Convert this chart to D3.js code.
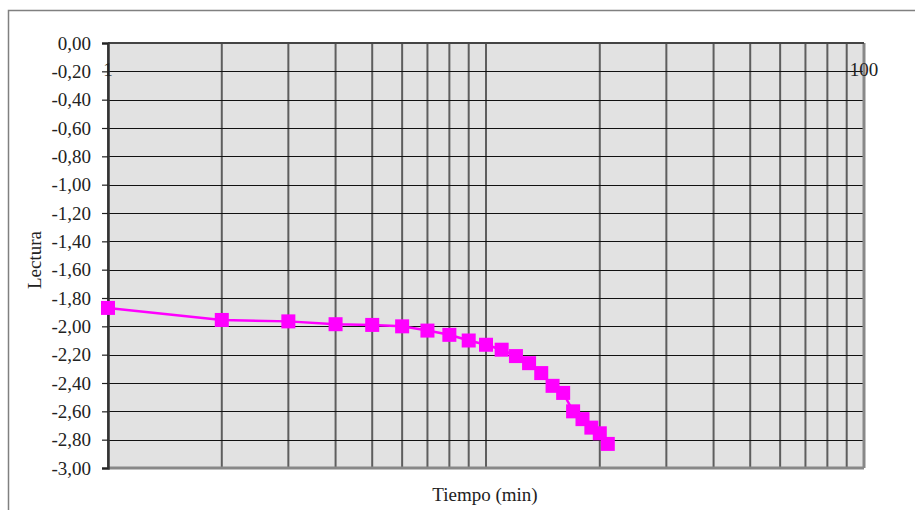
<!DOCTYPE html>
<html><head><meta charset="utf-8">
<script src="https://cdn.jsdelivr.net/npm/d3@7"></script>
<style>body{margin:0;background:#fff}svg{display:block}text{font-family:"Liberation Serif","Times New Roman",serif;fill:#222}</style>
</head><body><svg id="c" width="915" height="510"></svg>
<script>
const tiempo = [1,2,3,4,5,6,7,8,9,10,11,12,13,14,15,16,17,18,19,20,21];
const lectura = [-1.87,-1.955,-1.965,-1.985,-1.99,-2.00,-2.03,-2.06,-2.10,-2.13,-2.165,-2.21,-2.26,-2.33,-2.42,-2.47,-2.60,-2.655,-2.715,-2.755,-2.83];
const yTicks = [0,-0.2,-0.4,-0.6,-0.8,-1.0,-1.2,-1.4,-1.6,-1.8,-2.0,-2.2,-2.4,-2.6,-2.8,-3.0];
const xGrid = [1,2,3,4,5,6,7,8,9,10,20,30,40,50,60,70,80,90,100];
const xLabels = [1,100];

const svg = d3.select("#c");
const L=108,R=864,T=43,B=468;
const x = d3.scaleLog().domain([1,100]).range([L,R]);
const y = d3.scaleLinear().domain([0,-3]).range([T,B]);

// outer frame
svg.append("path").attr("d","M8.5,510 V10.5 H915").attr("fill","none").attr("stroke","#808080").attr("stroke-width",1.5);

svg.append("rect").attr("x",L).attr("y",T).attr("width",R-L).attr("height",B-T).attr("fill","#e2e2e2");

// vertical gridlines
svg.append("g").selectAll("line").data(xGrid).join("line")
  .attr("x1",d=>x(d)).attr("x2",d=>x(d)).attr("y1",T).attr("y2",B)
  .attr("stroke","#5e5e5e").attr("stroke-width",2);
// horizontal gridlines
svg.append("g").selectAll("line").data(yTicks).join("line")
  .attr("x1",L).attr("x2",R).attr("y1",d=>Math.round(y(d))+0.5).attr("y2",d=>Math.round(y(d))+0.5)
  .attr("stroke","#111").attr("stroke-width",1.2);

// plot borders
svg.append("line").attr("x1",L).attr("x2",R).attr("y1",B).attr("y2",B).attr("stroke","#888").attr("stroke-width",3);
svg.append("line").attr("x1",R).attr("x2",R).attr("y1",T).attr("y2",B).attr("stroke","#888").attr("stroke-width",3);
svg.append("line").attr("x1",L).attr("x2",R).attr("y1",T).attr("y2",T).attr("stroke","#444").attr("stroke-width",2);

// y axis
const ya = d3.axisLeft(y).tickValues(yTicks).tickSize(6).tickPadding(11)
  .tickFormat(d=>d3.format(".2f")(d).replace(".",",").replace("−","-"));
const yg = svg.append("g").attr("transform",`translate(${L},0)`).call(ya);
yg.select(".domain").attr("stroke","#333").attr("stroke-width",2.5);
yg.selectAll(".tick line").attr("stroke","#222").attr("stroke-width",1.2);
yg.selectAll(".tick text").attr("font-size",19).attr("fill","#333").attr("font-family","Liberation Serif");

// x labels
svg.append("g").selectAll("text").data(xLabels).join("text")
  .attr("x",d=>x(d)).attr("y",T+33).attr("text-anchor","middle")
  .attr("font-size",19).attr("fill","#333").text(d=>d);

// axis titles
svg.append("text").attr("x",485).attr("y",501).attr("text-anchor","middle").attr("font-size",19).attr("fill","#333").text("Tiempo (min)");
svg.append("text").attr("transform","translate(41,260) rotate(-90)").attr("text-anchor","middle").attr("font-size",19).attr("fill","#333").text("Lectura");

// series
const pts = tiempo.map((t,i)=>[t,lectura[i]]);
svg.append("path").datum(pts).attr("fill","none").attr("stroke","#ff00ff").attr("stroke-width",2.5)
  .attr("d",d3.line().x(d=>x(d[0])).y(d=>y(d[1])));
svg.append("g").selectAll("rect").data(pts).join("rect")
  .attr("x",d=>x(d[0])-7).attr("y",d=>y(d[1])-7).attr("width",14).attr("height",14).attr("fill","#ff00ff");
</script></body></html>
